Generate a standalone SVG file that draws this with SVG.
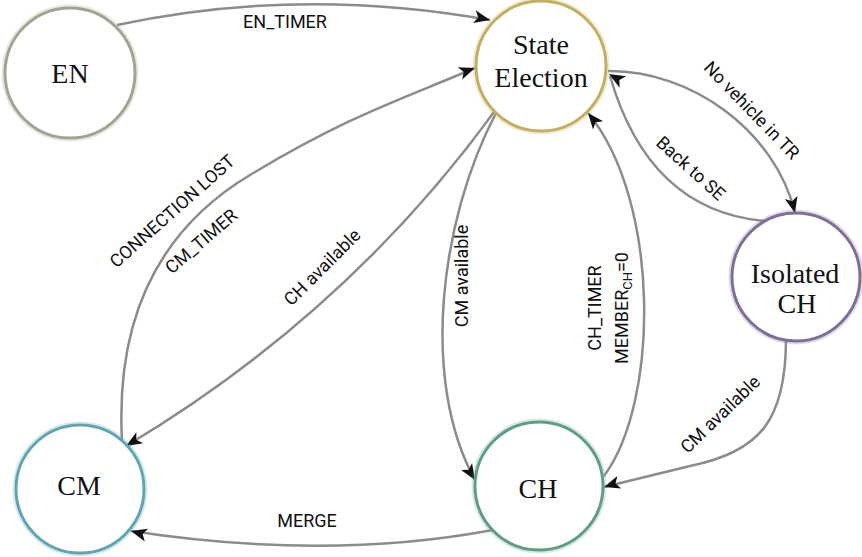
<svg xmlns="http://www.w3.org/2000/svg" xmlns:xlink="http://www.w3.org/1999/xlink" width="862" height="557" viewBox="0 0 862 557">
<style>
.node-halo{fill:none;stroke-width:7;opacity:0.25}
.node-ring{fill:#fff;stroke-width:3}
.ntext{font-family:"Liberation Serif","Times New Roman",serif;font-size:28px;fill:#111;text-anchor:middle}
.edge{fill:none;stroke:#8c8c8c;stroke-width:2.5}
.lbl{font-family:Roboto,"Open Sans",sans-serif;font-size:18px;fill:#111;text-anchor:middle}
</style>
<defs>
<path id="ah" d="M0,0 L-16,-6.5 L-12,0 L-16,6.5 Z" fill="#111"/>
</defs>
<rect width="862" height="557" fill="#fff"/>

<g id="connectors">
  <!-- EN -> State Election -->
  <path class="edge" d="M117,25 Q300,-14 490,20"/>
  <use xlink:href="#ah" transform="translate(490,20) rotate(12)"/>
  <text class="lbl" x="285" y="28">EN_TIMER</text>

  <!-- CM -> State Election (CONNECTION LOST / CM_TIMER) -->
  <path class="edge" d="M122,441 C116,330 150,235 250,175 S400,100 475,68"/>
  <use xlink:href="#ah" transform="translate(475,68) rotate(-20)"/>
  <g transform="translate(172,211) rotate(-41.5)"><text class="lbl" x="0" y="6.5">CONNECTION LOST</text></g>
  <g transform="translate(201,241) rotate(-40.7)"><text class="lbl" x="0" y="6.5">CM_TIMER</text></g>

  <!-- State Election -> CM (CH available) -->
  <path class="edge" d="M494,112 Q347,314 126,446"/>
  <use xlink:href="#ah" transform="translate(126,446) rotate(149)"/>
  <g transform="translate(322,267) rotate(-45)"><text class="lbl" x="0" y="6.5">CH available</text></g>

  <!-- State Election -> CH (CM available) -->
  <path class="edge" d="M496,113 C440,220 420,380 475,480"/>
  <use xlink:href="#ah" transform="translate(475,480) rotate(58)"/>
  <g transform="translate(461,276) rotate(-90)"><text class="lbl" x="0" y="6.5">CM available</text></g>

  <!-- CH -> State Election (CH_TIMER / MEMBER_CH=0) -->
  <path class="edge" d="M604,476 C660,400 660,200 588,113"/>
  <use xlink:href="#ah" transform="translate(588,113) rotate(-129)"/>
  <g transform="translate(594,308) rotate(-90)"><text class="lbl" x="0" y="6.5">CH_TIMER</text></g>
  <g transform="translate(621,308) rotate(-90)"><text class="lbl" x="0" y="6.5">MEMBER<tspan font-size="13" dy="4">CH</tspan><tspan dy="-4">=0</tspan></text></g>

  <!-- State Election -> Isolated CH (No vehicle in TR) -->
  <path class="edge" d="M608,71 C690,70 775,130 795,213"/>
  <use xlink:href="#ah" transform="translate(795,213) rotate(76)"/>
  <g transform="translate(752,110) rotate(46)"><text class="lbl" x="0" y="6.5">No vehicle in TR</text></g>

  <!-- Isolated CH -> State Election (Back to SE) -->
  <path class="edge" d="M764,221 C700,215 640,180 610,76"/>
  <use xlink:href="#ah" transform="translate(609,74) rotate(210)"/>
  <g transform="translate(691,168) rotate(42)"><text class="lbl" x="0" y="6.5">Back to SE</text></g>

  <!-- Isolated CH -> CH (CM available) -->
  <path class="edge" d="M786,339 C786,420 760,452 690,466 L604,487"/>
  <use xlink:href="#ah" transform="translate(604,487) rotate(163)"/>
  <g transform="translate(720,414) rotate(-44)"><text class="lbl" x="0" y="6.5">CM available</text></g>

  <!-- CH -> CM (MERGE) -->
  <path class="edge" d="M493,530 Q327,561 131,531"/>
  <use xlink:href="#ah" transform="translate(131,531) rotate(195)"/>
  <text class="lbl" x="307" y="527">MERGE</text>
</g>

<g id="node-en">
  <circle class="node-halo" cx="70" cy="73" r="65" stroke="#a8a898"/>
  <circle class="node-ring" cx="70" cy="73" r="65" stroke="#a3a394"/>
  <text class="ntext" x="70" y="83">EN</text>
</g>
<g id="node-state-election">
  <circle class="node-halo" cx="541" cy="66" r="65" stroke="#cdb96a"/>
  <circle class="node-ring" cx="541" cy="66" r="65" stroke="#c2b060"/>
  <text class="ntext" x="541" y="54">State</text>
  <text class="ntext" x="541" y="87">Election</text>
</g>
<g id="node-isolated-ch">
  <circle class="node-halo" cx="796" cy="277" r="64" stroke="#8a7aa3"/>
  <circle class="node-ring" cx="796" cy="277" r="64" stroke="#7f6f98"/>
  <text class="ntext" x="795" y="283">Isolated</text>
  <text class="ntext" x="797" y="313">CH</text>
</g>
<g id="node-cm">
  <circle class="node-halo" cx="80" cy="489" r="64" stroke="#6aaebb"/>
  <circle class="node-ring" cx="80" cy="489" r="64" stroke="#5fa6b5"/>
  <text class="ntext" x="79" y="495">CM</text>
</g>
<g id="node-ch">
  <circle class="node-halo" cx="539" cy="486" r="64" stroke="#6aa88e"/>
  <circle class="node-ring" cx="539" cy="486" r="64" stroke="#5e9f84"/>
  <text class="ntext" x="538" y="498">CH</text>
</g>
</svg>
